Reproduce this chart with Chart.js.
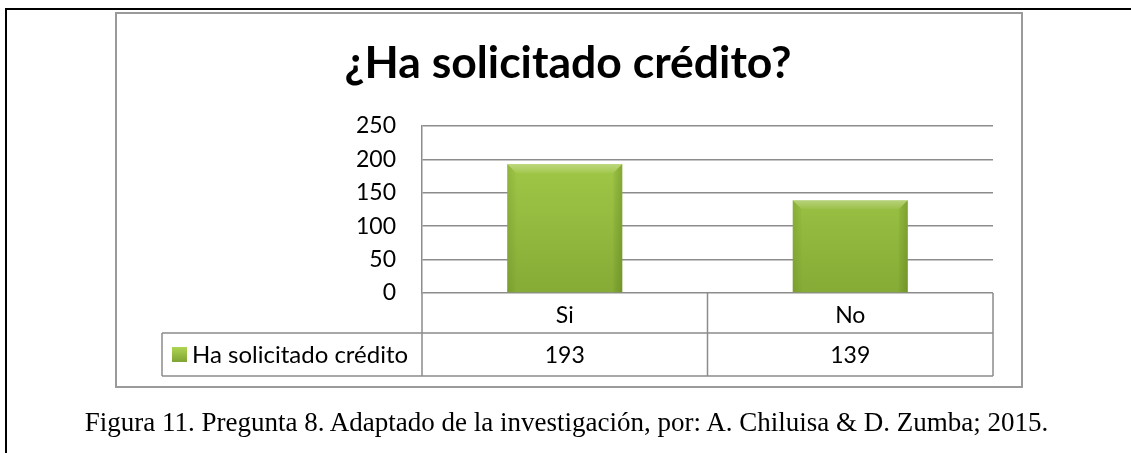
<!DOCTYPE html>
<html>
<head>
<meta charset="utf-8">
<script src="https://cdn.jsdelivr.net/npm/chart.js@4.4.1/dist/chart.umd.min.js"></script>
<style>
  html, body { margin: 0; padding: 0; background: #fff; }
  #wrap { position: relative; width: 1131px; height: 453px; overflow: hidden; }
  #chart { position: absolute; left: 0; top: 0; }
  #caption {
    position: absolute; left: 0; top: 407px; width: 1133px;
    text-align: center; white-space: nowrap;
    font-family: "Liberation Serif", "Times New Roman", serif;
    font-size: 27px; line-height: 30px; color: #000;
  }
</style>
</head>
<body>
<div id="wrap">
  <canvas id="chart" width="1131" height="453"></canvas>
  <div id="caption">Figura 11. Pregunta 8. Adaptado de la investigación, por: A. Chiluisa &amp; D. Zumba; 2015.</div>
</div>
<script>
// Data
const chartTitle = '¿Ha solicitado crédito?'
const seriesName = 'Ha solicitado crédito'
const categories = ['Si', 'No']
const values = [193, 139]
const yTicks = [0, 50, 100, 150, 200, 250]

const FONT = 'Lato'
const LINE = '#8c8c8c'

// page rules, chart box and title
const framePlugin = {
    id: 'frame',
    beforeDraw(chart) {
        const c = chart.ctx
        c.save()
        c.fillStyle = '#fff'
        c.fillRect(0, 0, chart.width, chart.height)
        c.fillStyle = '#000'
        c.fillRect(5, 8, chart.width - 5, 2)
        c.fillRect(5, 8, 2, chart.height - 8)
        c.strokeStyle = '#9a9a9a'
        c.lineWidth = 2
        c.strokeRect(116, 13, 906, 374)
        c.fillStyle = '#000'
        c.font = 'bold 44.5px ' + FONT
        c.textAlign = 'center'
        c.textBaseline = 'alphabetic'
        c.fillText(chartTitle, 568, 78)
        c.restore()
    }
}

// bevel on the bars
const bevelPlugin = {
    id: 'bevel',
    afterDatasetsDraw(chart) {
        const c = chart.ctx
        const b = 9
        chart.getDatasetMeta(0).data.forEach(el => {
            const p = el.getProps(['x', 'y', 'base', 'width'], true)
            const l = p.x - p.width / 2, r = p.x + p.width / 2
            c.save()
            const gt = c.createLinearGradient(0, p.y, 0, p.y + b)
            gt.addColorStop(0, 'rgba(255,255,255,0.30)')
            gt.addColorStop(1, 'rgba(255,255,255,0.05)')
            c.fillStyle = gt
            c.beginPath()
            c.moveTo(l, p.y); c.lineTo(r, p.y); c.lineTo(r - b, p.y + b); c.lineTo(l + b, p.y + b)
            c.closePath(); c.fill()
            const gr = c.createLinearGradient(r - b, 0, r, 0)
            gr.addColorStop(0, 'rgba(50,80,0,0.05)')
            gr.addColorStop(1, 'rgba(50,80,0,0.25)')
            c.fillStyle = gr
            c.beginPath()
            c.moveTo(r, p.y); c.lineTo(r, p.base); c.lineTo(r - b, p.base); c.lineTo(r - b, p.y + b)
            c.closePath(); c.fill()
            const gl = c.createLinearGradient(l, 0, l + b, 0)
            gl.addColorStop(0, 'rgba(50,80,0,0.14)')
            gl.addColorStop(1, 'rgba(50,80,0,0.02)')
            c.fillStyle = gl
            c.beginPath()
            c.moveTo(l, p.y); c.lineTo(l + b, p.y + b); c.lineTo(l + b, p.base); c.lineTo(l, p.base)
            c.closePath(); c.fill()
            c.restore()
        })
    }
}

// data table under the plot
const tablePlugin = {
    id: 'dataTable',
    afterDraw(chart) {
        const c = chart.ctx
        const a = chart.chartArea
        const xs = chart.scales.x
        const row2 = 333, row3 = 376, legLeft = 162
        const mid = (xs.getPixelForValue(0) + xs.getPixelForValue(1)) / 2
        c.save()
        c.strokeStyle = LINE
        c.lineWidth = 1.5
        c.beginPath()
        c.moveTo(legLeft, row2); c.lineTo(a.right, row2)
        c.moveTo(legLeft, row3); c.lineTo(a.right, row3)
        c.moveTo(legLeft, row2); c.lineTo(legLeft, row3)
        c.moveTo(a.left, a.bottom); c.lineTo(a.left, row3)
        c.moveTo(mid, a.bottom); c.lineTo(mid, row3)
        c.moveTo(a.right, a.bottom); c.lineTo(a.right, row3)
        c.stroke()

        const cy = (row2 + row3) / 2 + 1
        c.fillStyle = '#000'
        c.font = '23px ' + FONT
        c.textBaseline = 'middle'
        c.textAlign = 'center'
        values.forEach((v, i) => c.fillText(String(v), xs.getPixelForValue(i), cy))
        c.font = '24px ' + FONT
        c.textAlign = 'left'
        c.fillText(seriesName, 192, cy)

        // legend key
        const g = c.createLinearGradient(0, 347, 0, 362)
        g.addColorStop(0, '#aed454')
        g.addColorStop(1, '#7fa432')
        c.fillStyle = g
        c.fillRect(172, 347, 15, 15)
        c.restore()
    }
}

const config = {
    type: 'bar',
    data: {
        labels: categories,
        datasets: [{
            label: seriesName,
            data: values,
            backgroundColor: function(ctx) {
                const ar = ctx.chart.chartArea
                if (!ar) return '#9bbf45'
                const g = ctx.chart.ctx.createLinearGradient(0, ar.top, 0, ar.bottom)
                g.addColorStop(0, '#a8cf4c')
                g.addColorStop(1, '#86ab36')
                return g
            },
            borderWidth: 0,
            categoryPercentage: 1,
            barPercentage: 0.403
        }]
    },
    options: {
        responsive: false,
        animation: false,
        events: [],
        layout: { padding: { left: 116, top: 126, right: 138, bottom: 0 } },
        plugins: {
            legend: { display: false },
            tooltip: { enabled: false },
            title: { display: false }
        },
        scales: {
            x: {
                grid: { display: false },
                border: { display: false },
                ticks: { color: '#000', font: { family: FONT, size: 23 }, padding: 1 },
                afterFit(scale) { scale.height = 453 - 293 }
            },
            y: {
                min: yTicks[0],
                max: yTicks[yTicks.length - 1],
                grid: { color: LINE, lineWidth: 1.5, drawTicks: false },
                border: { color: LINE, width: 1.5 },
                ticks: {
                    stepSize: yTicks[1] - yTicks[0],
                    color: '#000',
                    font: { family: FONT, size: 23 },
                    padding: 26
                },
                afterFit(scale) { scale.width = 422 - 116 }
            }
        }
    },
    plugins: [framePlugin, bevelPlugin, tablePlugin]
}

const myChart = new Chart(document.getElementById('chart'), config)
</script>
</body>
</html>
